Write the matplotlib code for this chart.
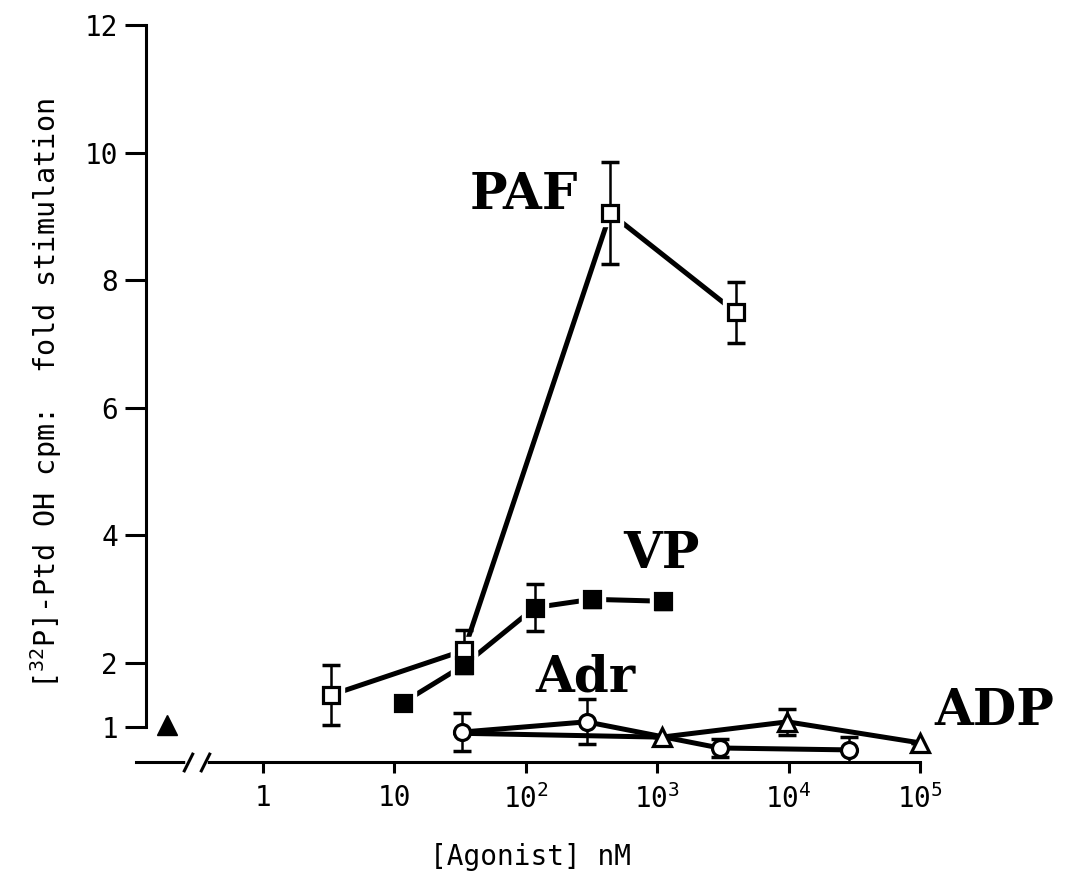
import numpy as np
import matplotlib.pyplot as plt

# [32P]-PtdOH formation, fold over basal, vs agonist concentration (nM)
paf_x = [3.3, 34, 440, 3950]
paf_y = [1.5, 2.2, 9.05, 7.5]
paf_err = [0.47, 0.32, 0.8, 0.48]

vp_x = [11.6, 34, 117, 318, 1100]
vp_y = [1.38, 1.97, 2.87, 3.0, 2.97]
vp_err = [0.1, 0.13, 0.37, 0.12, 0.12]

adr_x = [33, 290, 2990, 29000]
adr_y = [0.92, 1.08, 0.67, 0.64]
adr_err = [0.3, 0.35, 0.14, 0.21]

adp_x = [33, 1080, 9800, 100000]
adp_y = [0.9, 0.84, 1.08, 0.75]
adp_err = [0.0, 0.0, 0.2, 0.0]

# unstimulated control, drawn left of the axis break
ctrl_x = [0.186]
ctrl_y = [1.03]

y_ticks = [1, 2, 4, 6, 8, 10, 12]
x_ticks = [1, 10, 100, 1000, 10000, 100000]
x_ticklabels = ['1', '10', r'$\mathregular{10^2}$', r'$\mathregular{10^3}$',
                r'$\mathregular{10^4}$', r'$\mathregular{10^5}$']

plt.rcParams['font.family'] = ['DejaVu Sans Mono']
plt.rcParams['axes.linewidth'] = 2.2


def draw_series(ax, x, y, err, marker, face, size, halo=False, every=None):
    ax.plot(x, y, '-', color='k', lw=3.6, solid_capstyle='round', zorder=2)
    if halo:
        # white ring so the joining line stops short of the symbol
        ax.plot(x, y, ls='none', marker=marker, ms=size + 8, mfc='w', mec='w',
                zorder=3, markevery=every)
    ax.errorbar(x, y, yerr=err, fmt='none', ecolor='k', elinewidth=1.8,
                capsize=6.5, capthick=2.5, zorder=4)
    ax.plot(x, y, ls='none', marker=marker, ms=size, mfc=face, mec='k',
            mew=2.3, zorder=5, markevery=every, clip_on=False)


fig = plt.figure(figsize=(10.73, 8.77), dpi=100)
ax = fig.add_axes([0.1267, 0.1311, 0.7307, 0.8404])

ax.set_xscale('log')
x_left = 10 ** (-0.966)
ax.set_xlim(x_left, 1e5)
ax.set_ylim(0.45, 12.0)

draw_series(ax, adp_x, adp_y, adp_err, '^', 'w', 12.5, every=[1, 2, 3])
draw_series(ax, adr_x, adr_y, adr_err, 'o', 'w', 11.5)
draw_series(ax, paf_x, paf_y, paf_err, 's', 'w', 11, halo=True)
draw_series(ax, vp_x, vp_y, vp_err, 's', 'k', 11, halo=True)
ax.plot(ctrl_x, ctrl_y, ls='none', marker='^', ms=14, color='k', zorder=5)

# series names
label_kw = dict(family='DejaVu Serif', weight='bold', fontsize=36,
                ha='center', va='center')
ax.text(97, 9.33, 'PAF', **label_kw)
ax.text(1080, 3.70, 'VP', **label_kw)
ax.text(286, 1.77, 'Adr', **label_kw)
ax.text(3.7e5, 1.24, 'ADP', clip_on=False, **label_kw)

# axes styling
for side in ('top', 'right'):
    ax.spines[side].set_visible(False)
ax.spines['left'].set_position(('axes', 0.0128))
ax.spines['left'].set_bounds(1, 12)

ax.set_yticks(y_ticks)
ax.set_yticklabels([str(t) for t in y_ticks])
ax.set_xticks(x_ticks)
ax.set_xticklabels(x_ticklabels)
ax.minorticks_off()
ax.tick_params(axis='y', direction='out', length=15, width=2.2, pad=5,
               labelsize=20)
ax.tick_params(axis='x', direction='out', length=8, width=2.2, pad=8,
               labelsize=20)

# break marks on the concentration axis
xa = ax.get_xaxis_transform()
ax.plot([0.27, 0.36], [0, 0], color='w', lw=4, transform=xa, clip_on=False,
        zorder=6)
ax.plot([0.27, 0.36], [0, 0], ls='none', marker=[(-1, -2), (1, 2)], ms=14,
        mec='k', mew=2.2, transform=xa, clip_on=False, zorder=7)

ax.set_xlabel('[Agonist] nM', fontsize=20)
ax.xaxis.set_label_coords(0.503, -0.11)
ax.set_ylabel(r'[$\mathregular{^{32}}$P]-Ptd OH cpm:  fold stimulation',
              fontsize=20.5)
ax.yaxis.set_label_coords(-0.092, 0.5)

fig.savefig('out.png', dpi=100)
